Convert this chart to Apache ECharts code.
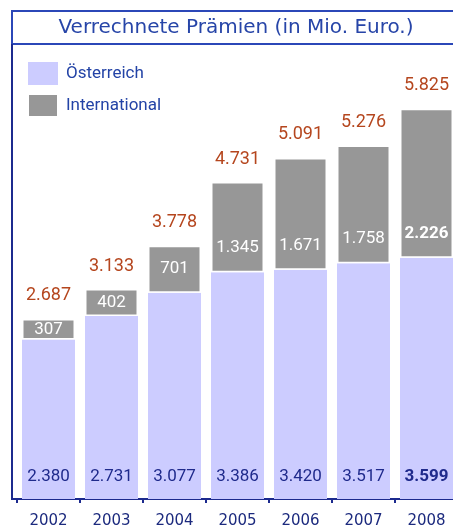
<!DOCTYPE html>
<html><head><meta charset="utf-8">
<script src="https://cdn.jsdelivr.net/npm/echarts@6/dist/echarts.min.js"></script>
<style>html,body{margin:0;padding:0;background:#fff;overflow:hidden}#c{width:458px;height:531px}</style>
</head><body><div id="c"></div>
<script>
var years = ['2002','2003','2004','2005','2006','2007','2008'];
var oesterreich = [2380, 2731, 3077, 3386, 3420, 3517, 3599];
var international = [307, 402, 701, 1345, 1671, 1758, 2226];
var totals = [2687, 3133, 3778, 4731, 5091, 5276, 5825];
var titleText = 'Verrechnete Prämien (in Mio. Euro.)';
var seriesNames = ['Österreich', 'International'];

function fmt(v){ var s = String(v); return s.length > 3 ? s.slice(0, s.length-3) + '.' + s.slice(-3) : s; }
var last = years.length - 1;
var numFont = 'Roboto, sans-serif';

var chart = echarts.init(document.getElementById('c'), null, {renderer:'canvas'});
var oeData = oesterreich.map(function(v,i){
  return {value:v, label:{fontWeight: i===last ? 'bold' : 'normal'}};
});
var intData = international.map(function(v,i){
  var small = v < 500;
  return {value:v, label:{fontWeight: i===last ? 'bold' : 'normal', position: small ? 'inside' : 'insideBottom', distance: small ? 0 : 16}};
});

chart.setOption({
  animation:false,
  backgroundColor:'#fff',
  grid:{left:17, right:0, top:97, bottom:32},
  legend:{
    orient:'vertical', left:22, top:57, itemWidth:30, itemHeight:23, itemGap:8,
    icon:'rect', data:seriesNames,
    textStyle:{fontFamily:'Roboto', fontSize:17, lineHeight:23, color:'#2343a6', padding:[0,0,0,3]}
  },
  xAxis:{
    type:'category', data:years, boundaryGap:true,
    axisLine:{show:true, lineStyle:{color:'#1c2a8e', width:2}},
    axisTick:{show:true, length:4, lineStyle:{color:'#1c2a8e', width:2}},
    axisLabel:{fontFamily:'DejaVu Sans', fontSize:15, color:'#1c2a7e', margin:15}
  },
  yAxis:{type:'value', min:0, max:6000, show:false, splitLine:{show:false}},
  series:[
    {name:seriesNames[0], type:'bar', stack:'s', barWidth:53, data:oeData,
     itemStyle:{color:'#ccccff'},
     label:{show:true, position:'insideBottom', distance:14, fontFamily:numFont, fontSize:17, color:'#1f2a8c',
            formatter:function(p){return fmt(p.value);}}},
    {name:seriesNames[1], type:'bar', stack:'s', barWidth:53, data:intData,
     itemStyle:{color:'#979797', borderColor:'#ffffff', borderWidth:1.5},
     label:{show:true, fontFamily:numFont, fontSize:17, color:'#ffffff',
            formatter:function(p){return fmt(p.value);}}},
    {name:'Gesamt', type:'line', data:totals, symbol:'circle', symbolSize:2, showSymbol:true,
     itemStyle:{color:'rgba(0,0,0,0)'}, lineStyle:{width:0, color:'rgba(0,0,0,0)'}, silent:true,
     label:{show:true, position:'top', distance:13, fontFamily:numFont, fontSize:18, color:'#b5461e',
            formatter:function(p){return fmt(p.value);}}}
  ],
  graphic:[
    {type:'rect', shape:{x:12, y:11, width:460, height:33}, style:{fill:'#fff', stroke:'#2b47b8', lineWidth:2}, z:10},
    {type:'text', x:236, y:28, style:{text:titleText, fontFamily:'DejaVu Sans', fontSize:20, fill:'#2745a8', textAlign:'center', textVerticalAlign:'middle'}, z:11},
    {type:'line', shape:{x1:12, y1:44, x2:12, y2:500}, style:{stroke:'#1c2a8e', lineWidth:2}, z:10},
    {type:'line', shape:{x1:11, y1:499, x2:18, y2:499}, style:{stroke:'#1c2a8e', lineWidth:2}, z:10}
  ]
});
</script></body></html>
